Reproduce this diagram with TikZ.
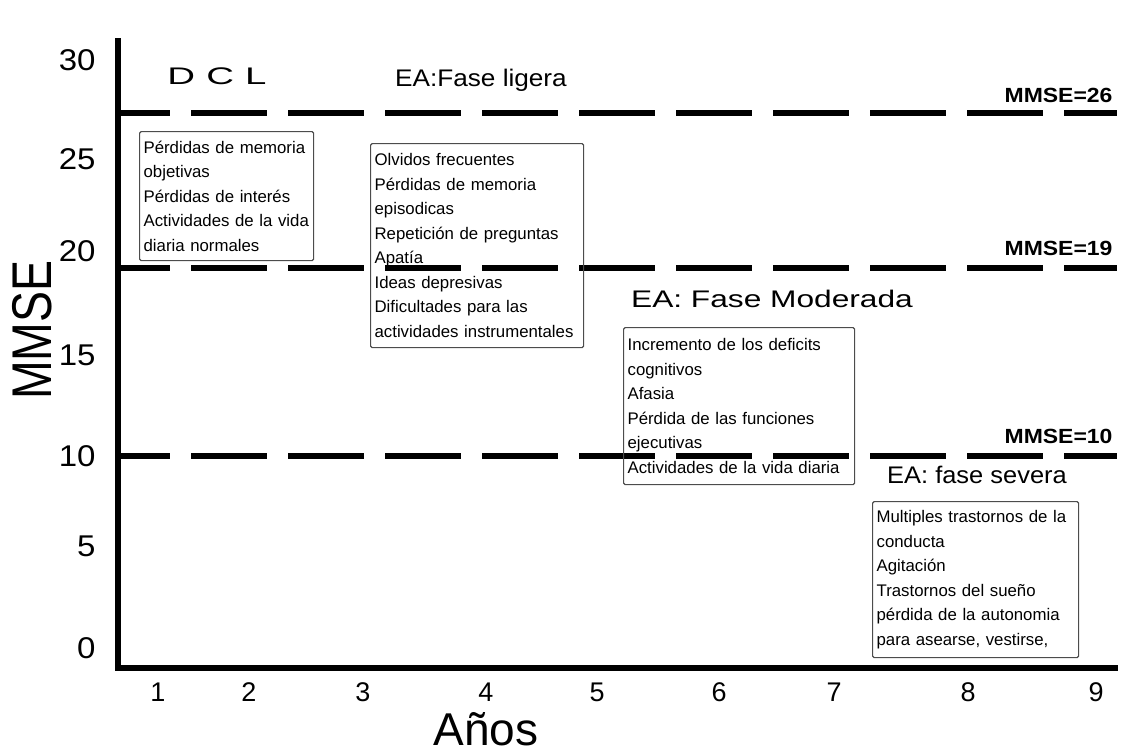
\documentclass[tikz,border=0pt]{standalone}
\usepackage{fontspec}
\setmainfont{Liberation Sans}

\tikzset{
  eje/.style={line width=5.5pt},
  umbral/.style={line width=5.5pt, dash pattern=on 76pt off 21pt, dash phase=24pt},
  sintomas/.style={draw=black!70, line width=1.2pt, rounded corners=1.5pt, anchor=north west,
    align=left, inner xsep=4pt, inner ysep=0pt, font=\fontsize{16.8}{24.5}\selectfont},
  fase/.style={anchor=base, font=\fontsize{24}{24}\selectfont},
  corte/.style={anchor=base east, font=\bfseries\fontsize{20.5}{20.5}\selectfont},
}

\begin{document}
\begin{tikzpicture}[x=1pt,y=-1pt]
\useasboundingbox (0,0) rectangle (1129,755);
% ejes
\coordinate (O) at (118,668);
\coordinate (ytop) at (118,38);
\coordinate (xend) at (1118,668);
\draw[eje] (ytop)--(118,671);
\draw[eje] (115,668)--(xend);
\node[rotate=90, font=\fontsize{56}{56}\selectfont] (ylab) at (32,330) {\scalebox{0.83}[1]{MMSE}};
\node[anchor=base, font=\fontsize{46}{46}\selectfont, inner sep=0pt] (xlab) at (486,745) {Años};
% valores MMSE
\foreach \v/\y in {30/60,25/159,20/251,15/355,10/456,5/546,0/648}
  \node[anchor=east, font=\fontsize{30}{30}\selectfont] (y\v) at (99,\y) {\scalebox{1.1}[1]{\v}};
% años
\foreach \a/\x in {1/158,2/249,3/363,4/486,5/597,6/719,7/834,8/968,9/1096}
  \node[font=\fontsize{27}{27}\selectfont, inner sep=0pt] (x\a) at (\x,692) {\a};
% umbrales
\draw[umbral] (118,113)--(1117,113);
\draw[umbral] (118,268)--(1117,268);
\draw[umbral] (118,456)--(1117,456);
\node[corte] (m26) at (1116,102) {\scalebox{1.12}[1]{MMSE=26}};
\node[corte] (m19) at (1116,255) {\scalebox{1.12}[1]{MMSE=19}};
\node[corte] (m10) at (1116,443) {\scalebox{1.12}[1]{MMSE=10}};
% fases
\node[fase] (dcl) at (217,84) {\scalebox{1.6}[1]{D\hspace{7pt}C\hspace{7pt}L}};
\node[fase] (ligera) at (481,86) {\scalebox{1.09}[1]{EA:Fase ligera}};
\node[fase] (moderada) at (772,307) {\scalebox{1.32}[1]{EA: Fase Moderada}};
\node[fase] (severa) at (977,483) {\scalebox{1.06}[1]{EA: fase severa}};
% sintomas
\node[sintomas, text width=166pt, minimum height=129pt] (s1) at (139,131)
  {Pérdidas de memoria\\objetivas\\Pérdidas de interés\\Actividades de la vida\\diaria normales};
\node[sintomas, text width=205pt, minimum height=204pt] (s2) at (370,143)
  {Olvidos frecuentes\\Pérdidas de memoria\\episodicas\\Repetición de preguntas\\Apatía\\Ideas depresivas\\Dificultades para las\\actividades instrumentales};
\node[sintomas, text width=223pt, minimum height=157pt] (s3) at (623,327)
  {Incremento de los deficits\\cognitivos\\Afasia\\Pérdida de las funciones\\ejecutivas\\Actividades de la vida diaria};
\node[sintomas, text width=198pt, minimum height=156pt] (s4) at (872,501)
  {Multiples trastornos de la\\conducta\\Agitación\\Trastornos del sueño\\pérdida de la autonomia\\para asearse, vestirse,};
\end{tikzpicture}
\end{document}
